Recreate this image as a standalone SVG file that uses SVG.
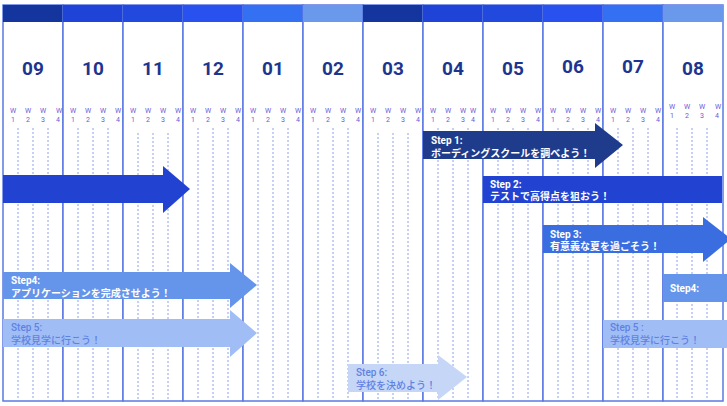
<svg xmlns="http://www.w3.org/2000/svg" width="727" height="406" viewBox="0 0 727 406">
<style>
.col{fill:#fff;stroke:#5b78e4;stroke-width:1.5}
.mon{font-family:Roboto,"Liberation Sans",sans-serif;font-weight:700;font-size:19px;fill:#1c3590;text-anchor:middle}
.wk{font-family:Roboto,"Liberation Sans",sans-serif;font-size:7px;fill:#6a58d8;text-anchor:middle}
.dot{stroke:#8ea2ea;stroke-width:1;stroke-dasharray:2 2}
.st{font-family:Roboto,"Noto Sans CJK JP",sans-serif;font-weight:700;font-size:10px;fill:#fff}
.st2{font-family:Roboto,"Noto Sans CJK JP",sans-serif;font-weight:500;font-size:10px;fill:#5f82e2}
</style>
<rect width="727" height="406" fill="#fff"/>
<g id="columns">
<g id="m09"><rect class="col" x="3" y="5" width="60" height="396" stroke="#8ea0e0"/><rect x="3" y="5" width="60" height="17" fill="#14359e"/><text class="mon" x="33" y="75">09</text>
<g class="wk"><text x="13" y="113">W</text><text x="28" y="113">W</text><text x="43" y="113">W</text><text x="59" y="113">W</text><text x="13" y="122">1</text><text x="28" y="122">2</text><text x="43" y="122">3</text><text x="58" y="122">4</text></g>
<path class="dot" d="M18 128V400M33 128V400M48 128V400"/></g>
<g id="m10"><rect class="col" x="63" y="5" width="60" height="396" stroke="#5f75d8"/><rect x="63" y="5" width="60" height="17" fill="#1f43d6"/><text class="mon" x="93" y="75">10</text>
<g class="wk"><text x="73" y="113">W</text><text x="88" y="113">W</text><text x="103" y="113">W</text><text x="118" y="113">W</text><text x="73" y="122">1</text><text x="88" y="122">2</text><text x="103" y="122">3</text><text x="118" y="122">4</text></g>
<path class="dot" d="M78 128V400M93 128V400M108 128V400"/></g>
<g id="m11"><rect class="col" x="123" y="5" width="60" height="396"/><rect x="123" y="5" width="60" height="17" fill="#2149de"/><text class="mon" x="153" y="75">11</text>
<g class="wk"><text x="133" y="113">W</text><text x="148" y="113">W</text><text x="163" y="113">W</text><text x="178" y="113">W</text><text x="133" y="122">1</text><text x="148" y="122">2</text><text x="163" y="122">3</text><text x="178" y="122">4</text></g>
<path class="dot" d="M138 133V400M153 133V400M168 133V400"/></g>
<g id="m12"><rect class="col" x="183" y="5" width="60" height="396"/><rect x="183" y="5" width="60" height="17" fill="#2851f0"/><text class="mon" x="213" y="75">12</text>
<g class="wk"><text x="193" y="113">W</text><text x="208" y="113">W</text><text x="223" y="113">W</text><text x="238" y="113">W</text><text x="193" y="122">1</text><text x="208" y="122">2</text><text x="223" y="122">3</text><text x="238" y="122">4</text></g>
<path class="dot" d="M198 128V400M213 128V400M228 128V400"/></g>
<g id="m01"><rect class="col" x="243" y="5" width="60" height="396" stroke="#3c62ee"/><rect x="243" y="5" width="60" height="17" fill="#3370f2"/><text class="mon" x="273" y="75">01</text>
<g class="wk"><text x="253" y="113">W</text><text x="268" y="113">W</text><text x="283" y="113">W</text><text x="298" y="113">W</text><text x="253" y="122">1</text><text x="268" y="122">2</text><text x="283" y="122">3</text><text x="298" y="122">4</text></g>
<path class="dot" d="M258 128V400M273 128V400M288 128V400"/></g>
<g id="m02"><rect class="col" x="303" y="5" width="60" height="396"/><rect x="303" y="5" width="60" height="17" fill="#6a98ea"/><text class="mon" x="333" y="75">02</text>
<g class="wk"><text x="313" y="113">W</text><text x="328" y="113">W</text><text x="343" y="113">W</text><text x="358" y="113">W</text><text x="313" y="122">1</text><text x="328" y="122">2</text><text x="343" y="122">3</text><text x="358" y="122">4</text></g>
<path class="dot" d="M318 128V400M333 128V400M348 128V400"/></g>
<g id="m03"><rect class="col" x="363" y="5" width="60" height="396"/><rect x="363" y="5" width="60" height="17" fill="#14359e"/><text class="mon" x="393" y="75">03</text>
<g class="wk"><text x="373" y="113">W</text><text x="388" y="113">W</text><text x="403" y="113">W</text><text x="418" y="113">W</text><text x="373" y="122">1</text><text x="388" y="122">2</text><text x="403" y="122">3</text><text x="418" y="122">4</text></g>
<path class="dot" d="M378 133V400M393 133V400M408 133V400"/></g>
<g id="m04"><rect class="col" x="423" y="5" width="60" height="396" stroke="#3a5fe6"/><rect x="423" y="5" width="60" height="17" fill="#1f43d6"/><text class="mon" x="453" y="75">04</text>
<g class="wk"><text x="433" y="113">W</text><text x="448" y="113">W</text><text x="463" y="113">W</text><text x="473" y="113">W</text><text x="433" y="122">1</text><text x="448" y="122">2</text><text x="463" y="122">3</text><text x="473" y="122">4</text></g>
<path class="dot" d="M438 128V400M453 128V400M468 128V400"/></g>
<g id="m05"><rect class="col" x="483" y="5" width="60" height="396" stroke="#3a5fe6"/><rect x="483" y="5" width="60" height="17" fill="#2149de"/><text class="mon" x="513" y="75">05</text>
<g class="wk"><text x="493" y="113">W</text><text x="508" y="113">W</text><text x="523" y="113">W</text><text x="538" y="113">W</text><text x="493" y="122">1</text><text x="508" y="122">2</text><text x="523" y="122">3</text><text x="538" y="122">4</text></g>
<path class="dot" d="M498 128V400M513 128V400M528 128V400"/></g>
<g id="m06"><rect class="col" x="543" y="5" width="60" height="396" stroke="#3a5fe6"/><rect x="543" y="5" width="60" height="17" fill="#2851f0"/><text class="mon" x="573" y="73">06</text>
<g class="wk"><text x="553" y="113">W</text><text x="568" y="113">W</text><text x="583" y="113">W</text><text x="598" y="113">W</text><text x="553" y="122">1</text><text x="568" y="122">2</text><text x="583" y="122">3</text><text x="598" y="122">4</text></g>
<path class="dot" d="M558 128V400M573 128V400M588 128V400"/></g>
<g id="m07"><rect class="col" x="603" y="5" width="60" height="396" stroke="#3a62f0"/><rect x="603" y="5" width="60" height="17" fill="#3370f2"/><text class="mon" x="633" y="73">07</text>
<g class="wk"><text x="613" y="113">W</text><text x="628" y="113">W</text><text x="643" y="113">W</text><text x="658" y="113">W</text><text x="613" y="122">1</text><text x="628" y="122">2</text><text x="643" y="122">3</text><text x="658" y="122">4</text></g>
<path class="dot" d="M618 128V400M633 128V400M648 128V400"/></g>
<g id="m08"><rect class="col" x="663" y="5" width="60" height="396" stroke="#6f8fe8"/><rect x="663" y="5" width="60" height="17" fill="#6a98ea"/><text class="mon" x="693" y="75">08</text>
<g class="wk"><text x="672" y="109">W</text><text x="687" y="109">W</text><text x="702" y="109">W</text><text x="718" y="109">W</text><text x="672" y="118">1</text><text x="687" y="118">2</text><text x="702" y="118">3</text><text x="717" y="118">4</text></g>
<path class="dot" d="M677 128V400M692 128V400M707 128V400"/></g>
</g>
<g id="connectors">
<g id="arrow0"><path d="M3 175H163V166L190 189L163 213V203H3Z" fill="#2243d2"/></g>
<g id="step1"><path d="M423 131H595V123L623 145L595 168V159H423Z" fill="#1f3c8c"/><text class="st" x="431" y="144">Step 1:</text><text class="st" x="431" y="157">ボーディングスクールを調べよう！</text></g>
<g id="step2"><rect x="483" y="176" width="239" height="27" fill="#2243d2"/><text class="st" x="490" y="188">Step 2:</text><text class="st" x="490" y="200">テストで高得点を狙おう！</text></g>
<g id="step3"><path d="M543 225H703V217L731 239L703 262V253H543Z" fill="#3a6ee0"/><text class="st" x="550" y="238">Step 3:</text><text class="st" x="550" y="250">有意義な夏を過ごそう！</text></g>
<g id="step4"><path d="M3 272H230V263L257 285L230 308V299H3Z" fill="#6495ea"/><text class="st" x="11" y="284">Step4:</text><text class="st" x="11" y="297">アプリケーションを完成させよう！</text></g>
<g id="step5"><path d="M3 319H230V310L257 333L230 357V347H3Z" fill="#a0bef5"/><text class="st2" x="11" y="331">Step 5:</text><text class="st2" x="11" y="344">学校見学に行こう！</text></g>
<g id="step6"><path d="M348 364H438V355L467 377L438 400V392H348Z" fill="#c5d6f7"/><text class="st2" x="356" y="376" fill="#6a86d8">Step 6:</text><text class="st2" x="356" y="389" fill="#6a86d8">学校を決めよう！</text></g>
<g id="step4b"><rect x="663" y="274" width="64" height="28" fill="#6495ea"/><text class="st" x="670" y="292">Step4:</text></g>
<g id="step5b"><rect x="603" y="320" width="124" height="28" fill="#a0bef5"/><text class="st2" x="610" y="331">Step 5 :</text><text class="st2" x="610" y="344">学校見学に行こう！</text></g>
</g>
</svg>
